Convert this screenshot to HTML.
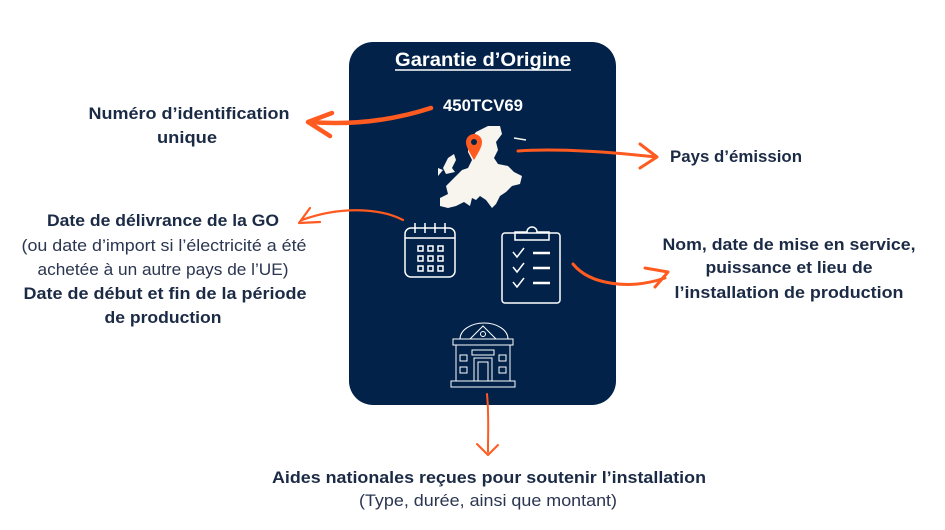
<!DOCTYPE html>
<html><head><meta charset="utf-8"><style>
html,body{margin:0;padding:0;background:#fff;}
svg{display:block;}
text{font-family:"Liberation Sans",sans-serif;}
.b{font-weight:bold;fill:#1b2a45;font-size:17px;}
.r{fill:#2a3550;font-size:17px;}
</style></head><body>
<svg width="945" height="530" viewBox="0 0 945 530" xmlns="http://www.w3.org/2000/svg">
<rect x="349" y="42" width="267" height="363" rx="24" fill="#022249"/>
<text x="483" y="66" text-anchor="middle" font-weight="bold" font-size="19" fill="#fff" textLength="176" lengthAdjust="spacingAndGlyphs">Garantie d’Origine</text>
<line x1="395" y1="70" x2="571" y2="70" stroke="#fff" stroke-width="1.5"/>
<text x="483" y="111" text-anchor="middle" font-weight="bold" font-size="17" fill="#fff" textLength="80" lengthAdjust="spacingAndGlyphs">450TCV69</text>
<!-- Europe map approximation -->
<path fill="#f8f4ee" d="M468 142 L476 132 L488 126 L500 126 L502 134 L496 142 L498 150 L494 158 L498 164 L508 166 L514 172 L522 176 L520 184 L512 186 L506 192 L500 196 L496 204 L492 208 L486 200 L480 196 L476 200 L472 198 L470 206 L464 202 L456 206 L448 208 L440 206 L440 198 L448 194 L446 186 L452 180 L456 176 L462 170 L468 168 L472 160 L468 152 Z"/>
<path fill="#f8f4ee" d="M448 158 L454 154 L456 160 L452 168 L455 172 L446 174 L443 168 Z M438 168 L443 170 L438 176 Z"/>
<path d="M514 138 L526 140" stroke="#f8f4ee" stroke-width="1.5"/>
<path fill="#ff5a1f" d="M474 160 C468 150 466 146 466 142 A8 8 0 0 1 482 142 C482 146 480 150 474 160 Z"/>
<circle cx="474" cy="142" r="3" fill="#022249"/>
<!-- calendar -->
<g fill="none" stroke="#fff" stroke-width="1.5">
<rect x="405" y="228" width="50" height="49" rx="6"/>
<line x1="405" y1="238" x2="455" y2="238"/>
<line x1="415" y1="223" x2="415" y2="233"/><line x1="425" y1="223" x2="425" y2="233"/><line x1="435" y1="223" x2="435" y2="233"/><line x1="445" y1="223" x2="445" y2="233"/>
<rect x="418" y="246" width="5" height="5"/><rect x="428" y="246" width="5" height="5"/><rect x="438" y="246" width="5" height="5"/>
<rect x="418" y="256" width="5" height="5"/><rect x="428" y="256" width="5" height="5"/><rect x="438" y="256" width="5" height="5"/>
<rect x="418" y="266" width="5" height="5"/><rect x="428" y="266" width="5" height="5"/><rect x="438" y="266" width="5" height="5"/>
</g>
<!-- clipboard -->
<g fill="none" stroke="#fff" stroke-width="1.5">
<rect x="502" y="233" width="58" height="70" rx="3"/>
<path d="M515 240 L515 232 L527 232 A5 5 0 0 1 537 232 L549 232 L549 240 Z"/>
<path d="M513 252 L517 257 L524 248 M513 267 L517 272 L524 263 M513 282 L517 287 L524 278"/>
<line x1="533" y1="253" x2="550" y2="253" stroke-width="2.5"/>
<line x1="533" y1="268" x2="550" y2="268" stroke-width="2.5"/>
<line x1="533" y1="283" x2="550" y2="283" stroke-width="2.5"/>
</g>
<!-- building -->
<g fill="none" stroke="#fff" stroke-width="1">
<path d="M460 339 A24 16 0 0 1 508 339"/>
<path d="M470 339 L483 326 L496 339 Z"/>
<circle cx="483" cy="334" r="2.5"/>
<rect x="453" y="339" width="60" height="6"/>
<rect x="456" y="345" width="54" height="36"/>
<rect x="472" y="350" width="22" height="5"/>
<rect x="474" y="358" width="18" height="23"/>
<rect x="478" y="362" width="10" height="19"/>
<rect x="460" y="355" width="7" height="6"/><rect x="460" y="367" width="7" height="6"/>
<rect x="499" y="355" width="7" height="6"/><rect x="499" y="367" width="7" height="6"/>
<rect x="451" y="381" width="64" height="6"/>
</g>
<!-- arrows -->
<g fill="none" stroke="#ff5a1f" stroke-linecap="round" stroke-linejoin="round">
<path d="M431 108 C400 118 360 126 310 122" stroke-width="4.5"/>
<path d="M332 113 L308 122 L330 136" stroke-width="4.5"/>
<path d="M518 151 C560 148 610 152 656 157" stroke-width="3"/>
<path d="M640 144 L657 157 L640 168" stroke-width="3"/>
<path d="M403 220 C380 208 340 206 302 220" stroke-width="2.2"/>
<path d="M310 208 L299 223 L320 222" stroke-width="2.2"/>
<path d="M573 264 C590 285 630 290 665 278" stroke-width="3"/>
<path d="M645 268 L668 272 L655 287" stroke-width="3"/>
<path d="M487 394 C489 415 488 430 488 452" stroke-width="2"/>
<path d="M477 444 L488 455 L498 445" stroke-width="2"/>
</g>
<!-- labels -->
<text class="b" x="189" y="119" text-anchor="middle" textLength="201" lengthAdjust="spacingAndGlyphs">Numéro d’identification</text>
<text class="b" x="187" y="143" text-anchor="middle" textLength="60" lengthAdjust="spacingAndGlyphs">unique</text>
<text class="b" x="670" y="162" textLength="132" lengthAdjust="spacingAndGlyphs">Pays d’émission</text>
<text class="b" x="163" y="226" text-anchor="middle" textLength="232" lengthAdjust="spacingAndGlyphs">Date de délivrance de la GO</text>
<text class="r" x="164" y="251" text-anchor="middle" textLength="285" lengthAdjust="spacingAndGlyphs">(ou date d’import si l’électricité a été</text>
<text class="r" x="163" y="275" text-anchor="middle" textLength="251" lengthAdjust="spacingAndGlyphs">achetée à un autre pays de l’UE)</text>
<text class="b" x="165" y="299" text-anchor="middle" textLength="283" lengthAdjust="spacingAndGlyphs">Date de début et fin de la période</text>
<text class="b" x="163" y="323" text-anchor="middle" textLength="117" lengthAdjust="spacingAndGlyphs">de production</text>
<text class="b" x="789" y="250" text-anchor="middle" textLength="253" lengthAdjust="spacingAndGlyphs">Nom, date de mise en service,</text>
<text class="b" x="789" y="273" text-anchor="middle" textLength="167" lengthAdjust="spacingAndGlyphs">puissance et lieu de</text>
<text class="b" x="789" y="298" text-anchor="middle" textLength="229" lengthAdjust="spacingAndGlyphs">l’installation de production</text>
<text class="b" x="489" y="483" text-anchor="middle" textLength="434" lengthAdjust="spacingAndGlyphs">Aides nationales reçues pour soutenir l’installation</text>
<text class="r" x="488" y="506" text-anchor="middle" textLength="258" lengthAdjust="spacingAndGlyphs">(Type, durée, ainsi que montant)</text>
</svg>
</body></html>
